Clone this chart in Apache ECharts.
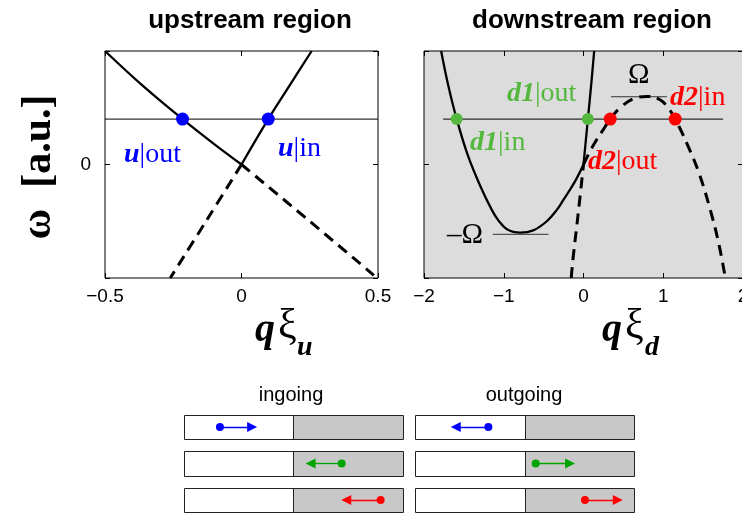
<!DOCTYPE html>
<html>
<head>
<meta charset="utf-8">
<script src="https://cdn.jsdelivr.net/npm/echarts@6/dist/echarts.min.js"></script>
<style>
  html, body { margin: 0; padding: 0; background: #fff; }
  #chart { width: 742px; height: 516px; }
</style>
</head>
<body>
<div id="chart"></div>
<script>
// upstream region, points as [q*xi_u, omega]
const upSolidLeft = [[-0.5, 1.0], [-0.36, 0.69], [-0.216, 0.4], [-0.1, 0.18], [0, 0]];
const upDashRight = [[0, 0], [0.24, -0.48], [0.485, -0.976]];
const upSolidRight = [[0, 0], [0.098, 0.4], [0.18, 0.71], [0.257, 1.0]];
const upDashLeft = [[0, 0], [-0.13, -0.5], [-0.261, -1.0]];
const upLevel = [[-0.5, 0.4], [0.5, 0.4]];
const upDots = [[-0.216, 0.4], [0.098, 0.4]];

// downstream region, [q*xi_d, omega]
const d1Left = [[-1.785, 1.0], [-1.7, 0.71], [-1.59, 0.4], [-1.45, 0.08], [-1.3, -0.18], [-1.15, -0.4],
  [-1.07, -0.49], [-0.96, -0.57], [-0.795, -0.6], [-0.63, -0.58], [-0.46, -0.5], [-0.335, -0.4],
  [-0.25, -0.31], [-0.167, -0.22], [-0.084, -0.12], [0, 0]];
const d1Right = [[0, 0], [0.055, 0.4], [0.1, 0.73], [0.134, 1.0]];
const d2Left = [[-0.154, -1.0], [-0.133, -0.84], [-0.063, -0.41], [0, 0]];
const d2Right = [[0, 0], [0.084, 0.12], [0.167, 0.22], [0.25, 0.31], [0.335, 0.4], [0.46, 0.5],
  [0.63, 0.58], [0.795, 0.6], [0.96, 0.57], [1.07, 0.49], [1.15, 0.4], [1.3, 0.18], [1.45, -0.08],
  [1.59, -0.4], [1.7, -0.71], [1.778, -1.0]];
const downLevel = [[-1.76, 0.4], [1.75, 0.4]];
const omegaMax = [[0.344, 0.597], [1.046, 0.597]];
const omegaMin = [[-1.137, -0.615], [-0.439, -0.615]];
const d1Dots = [[-1.59, 0.4], [0.055, 0.4]];
const d2Dots = [[0.335, 0.4], [1.15, 0.4]];

// schematic: box cells [column, row], arrows [column, row, from, to] in box widths
const boxCells = [[0, 0], [0, 1], [0, 2], [1, 0], [1, 1], [1, 2]];
const arrows = [
  [0, 0, 0.164, 0.311], [0, 1, 0.72, 0.578], [0, 2, 0.898, 0.741],
  [1, 0, 0.335, 0.186], [1, 1, 0.551, 0.708], [1, 2, 0.776, 0.926]
];
const columnTitles = ['ingoing', 'outgoing'];
const rowColors = ['#0000ff', '#00a400', '#ff0000'];

const SERIF = '"Liberation Serif", "DejaVu Serif", serif';
const SANS = '"Liberation Sans", Arial, sans-serif';
const colStep = 1.055;
const boxHalf = 0.33;

const chart = echarts.init(document.getElementById('chart'));

function curve(data, xi, dashed) {
  return {
    type: 'line', xAxisIndex: xi, yAxisIndex: xi, data: data, smooth: 0.4,
    symbol: 'none', silent: true, z: 3,
    lineStyle: { color: '#000', width: dashed ? 3 : 2.3, type: dashed ? [11, 7] : 'solid', cap: 'butt' }
  };
}
function thin(data, xi, color) {
  return {
    type: 'line', xAxisIndex: xi, yAxisIndex: xi, data: data, symbol: 'none', silent: true, z: 2,
    lineStyle: { color: color, width: 1 }
  };
}
function dots(data, xi, color, size) {
  return {
    type: 'scatter', xAxisIndex: xi, yAxisIndex: xi, data: data, symbolSize: size, z: 5,
    itemStyle: { color: color, opacity: 1 }
  };
}
function xAx(grid, min, max, interval, top) {
  return {
    type: 'value', gridIndex: grid, min: min, max: max, interval: interval,
    position: top ? 'top' : 'bottom',
    axisLine: { show: false, onZero: false }, splitLine: { show: false },
    axisTick: { show: true, inside: true, length: 5, lineStyle: { color: '#000', width: 1 } },
    axisLabel: {
      show: !top, margin: 9, color: '#000', fontFamily: SANS, fontSize: 19,
      formatter: v => String(v).replace('-', '\u2212')
    }
  };
}
function yAx(grid, right, withLabel) {
  return {
    type: 'value', gridIndex: grid, min: -1, max: 1, interval: 1,
    position: right ? 'right' : 'left',
    axisLine: { show: false, onZero: false }, splitLine: { show: false },
    axisTick: { show: true, inside: true, length: 5, lineStyle: { color: '#000', width: 1 } },
    axisLabel: {
      show: withLabel, margin: 14, color: '#000', fontFamily: SANS, fontSize: 19,
      formatter: v => (v === 0 ? '0' : '')
    }
  };
}
// label with bold italic head and upright tail, placed by its baseline
function tag(left, baseline, head, tail, color, size) {
  const rich = {
    b: { fontFamily: SERIF, fontSize: size, fontWeight: 'bold', fontStyle: 'italic', fill: color },
    r: { fontFamily: SERIF, fontSize: size, fill: color }
  };
  const text = (head ? '{b|' + head + '}' : '') + (tail ? '{r|' + tail + '}' : '');
  return {
    type: 'text', x: left, y: baseline - 0.34 * size, silent: true, z: 10,
    style: { text: text, fill: color, align: 'left', verticalAlign: 'middle', rich: rich }
  };
}
function plain(x, y, text, font, align, rotation) {
  return {
    type: 'text', x: x, y: y, rotation: rotation || 0, silent: true, z: 10,
    style: { text: text, font: font, fill: '#000', align: align, verticalAlign: 'middle' }
  };
}

const graphics = [
  plain(250, 21, 'upstream region', 'bold 26px ' + SANS, 'center'),
  plain(592, 21, 'downstream region', 'bold 26px ' + SANS, 'center'),
  plain(39, 167, '\u03c9  [a.u.]', 'bold 42px ' + SERIF, 'center', Math.PI / 2),
  tag(255, 344, 'q', '', '#000', 40),
  plain(278, 327, '\u03be', '42px ' + SERIF, 'left'),
  tag(297, 357, 'u', '', '#000', 28),
  tag(602, 344, 'q', '', '#000', 40),
  plain(625, 327, '\u03be', '42px ' + SERIF, 'left'),
  tag(645, 357, 'd', '', '#000', 28),
  tag(124, 164, 'u', '|out', '#0000ff', 28),
  tag(278, 158, 'u', '|in', '#0000ff', 28),
  tag(507, 103, 'd1', '|out', '#55b83e', 28),
  tag(470, 152, 'd1', '|in', '#55b83e', 28),
  tag(588, 171, 'd2', '|out', '#ff0000', 28),
  tag(670, 107, 'd2', '|in', '#ff0000', 28),
  tag(628, 85, '', '\u03a9', '#000', 29),
  tag(447, 245, '', '\u2013\u03a9', '#000', 29),
  plain(291, 395, columnTitles[0], '20px ' + SANS, 'center'),
  plain(524, 395, columnTitles[1], '20px ' + SANS, 'center')
];

chart.setOption({
  animation: false,
  backgroundColor: '#fff',
  grid: [
    { left: 105, top: 51, width: 273, height: 227, show: true, borderColor: '#000', borderWidth: 1,
      backgroundColor: '#fff', outerBoundsMode: 'none' },
    { left: 424, top: 51, width: 319, height: 227, show: true, borderColor: '#000', borderWidth: 1,
      backgroundColor: '#dcdcdc', outerBoundsMode: 'none' },
    { left: 184, top: 415, width: 450, height: 97, show: false, outerBoundsMode: 'none' }
  ],
  xAxis: [
    xAx(0, -0.5, 0.5, 0.5, false), xAx(0, -0.5, 0.5, 0.5, true),
    xAx(1, -2, 2, 1, false), xAx(1, -2, 2, 1, true),
    { type: 'value', gridIndex: 2, min: 0, max: 1 + colStep, show: false }
  ],
  yAxis: [
    yAx(0, false, true), yAx(0, true, false),
    yAx(1, false, false), yAx(1, true, false),
    { type: 'value', gridIndex: 2, min: -boxHalf, max: 2 + boxHalf, inverse: true, show: false }
  ],
  graphic: graphics,
  series: [
    thin(upLevel, 0, '#000'),
    curve(upSolidLeft, 0, false), curve(upDashRight, 0, true),
    curve(upSolidRight, 0, false), curve(upDashLeft, 0, true),
    dots(upDots, 0, '#0000ff', 13),

    thin(downLevel, 2, '#000'),
    thin(omegaMax, 2, '#333'), thin(omegaMin, 2, '#333'),
    curve(d1Left, 2, false), curve(d1Right, 2, false),
    curve(d2Left, 2, true), curve(d2Right, 2, true),
    dots(d1Dots, 2, '#55b83e', 12), dots(d2Dots, 2, '#ff0000', 13),

    {
      type: 'custom', xAxisIndex: 4, yAxisIndex: 4, data: boxCells, silent: true, z: 1,
      renderItem: function (params, api) {
        const x0 = api.value(0) * colStep;
        const row = api.value(1);
        const a = api.coord([x0, row - boxHalf]);
        const b = api.coord([x0 + 1, row + boxHalf]);
        const m = api.coord([x0 + 0.5, row]);
        const left = Math.round(a[0]) + 0.5, right = Math.round(b[0]) + 0.5;
        const top = Math.round(Math.min(a[1], b[1])) + 0.5;
        const bottom = Math.round(Math.max(a[1], b[1])) + 0.5;
        const mid = Math.round(m[0]) + 0.5;
        return {
          type: 'group',
          children: [
            { type: 'rect', shape: { x: left, y: top, width: mid - left, height: bottom - top }, style: { fill: '#fff' } },
            { type: 'rect', shape: { x: mid, y: top, width: right - mid, height: bottom - top }, style: { fill: '#c8c8c8' } },
            { type: 'rect', shape: { x: left, y: top, width: right - left, height: bottom - top },
              style: { fill: 'none', stroke: '#222', lineWidth: 1 } },
            { type: 'line', shape: { x1: mid, y1: top, x2: mid, y2: bottom }, style: { stroke: '#222', lineWidth: 1 } }
          ]
        };
      }
    },
    {
      type: 'lines', coordinateSystem: 'cartesian2d', xAxisIndex: 4, yAxisIndex: 4, z: 4, silent: true,
      symbol: ['circle', 'triangle'], symbolSize: [8, 10],
      data: arrows.map(a => ({
        coords: [[a[0] * colStep + a[2], a[1]], [a[0] * colStep + a[3], a[1]]],
        lineStyle: { color: rowColors[a[1]], width: 1.3, opacity: 1 }
      }))
    }
  ]
});
</script>
</body>
</html>
